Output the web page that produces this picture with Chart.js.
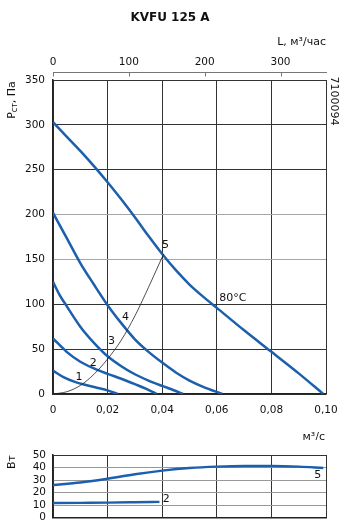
<!DOCTYPE html>
<html lang="ru">
<head>
  <meta charset="UTF-8" />
  <title>KVFU 125 A</title>
  <script src="https://cdn.jsdelivr.net/npm/chart.js"></script>
  <style>
    body {
      margin: 0;
      background: #fff;
      font-family: "DejaVu Sans", sans-serif;
    }
    .wrap {
      position: relative;
      width: 340px;
      height: 524px;
      overflow: hidden;
    }
    .title {
      position: absolute;
      top: 10px;
      left: 0;
      width: 340px;
      text-align: center;
      font-weight: bold;
      font-size: 12px;
      color: #111;
    }
    canvas {
      position: absolute;
      left: 0;
    }
    #pressure-chart { top: 0; }
    #power-chart { top: 440px; }
  </style>
</head>
<body>
  <div class="wrap">
    <canvas id="pressure-chart" width="340" height="440"></canvas>
    <canvas id="power-chart" width="340" height="84"></canvas>
    <div class="title">KVFU 125 A</div>
  </div>

  <script>
    // pressure curves, flow in m3/s, pressure in Pa
    const flow1 = [0, 0.004, 0.008, 0.012, 0.016, 0.02, 0.0237];
    const pres1 = [26, 18.5, 13.5, 10, 7, 4, 0];
    const flow2 = [0, 0.005, 0.01, 0.015, 0.02, 0.025, 0.03, 0.034, 0.038];
    const pres2 = [62, 47, 36, 28.5, 22.5, 17, 11, 6, 0];
    const flow3 = [0, 0.0025, 0.005, 0.01, 0.015, 0.02, 0.025, 0.03, 0.035, 0.04, 0.044, 0.0476];
    const pres3 = [125, 110, 98, 75, 57, 42, 31, 22, 15, 9, 4.5, 0];
    const flow4 = [0, 0.005, 0.01, 0.015, 0.02, 0.025, 0.03, 0.035, 0.04, 0.045, 0.05, 0.055, 0.062];
    const pres4 = [202, 174, 146, 122, 99, 79, 61, 47, 35, 24, 15, 8, 0];
    const flow5 = [0, 0.005, 0.01, 0.015, 0.02, 0.025, 0.03, 0.035, 0.04, 0.045, 0.05, 0.055, 0.06, 0.07, 0.08, 0.09, 0.099];
    const pres5 = [303, 287, 271, 254, 236, 217, 197, 176, 156, 138, 122, 108.5, 96, 71, 47, 23, 0];
    // thin system line
    const flowSys = [0, 0.005, 0.01, 0.015, 0.02, 0.025, 0.03, 0.035, 0.0405];
    const presSys = [0, 2.5, 9.5, 22, 39, 60, 87, 119, 156];

    // power curves, W
    const powFlow5 = [0, 0.01, 0.02, 0.03, 0.04, 0.05, 0.06, 0.07, 0.08, 0.09, 0.099];
    const powVal5 = [26, 28, 31, 34.6, 37.5, 39.6, 40.7, 41.2, 41.2, 40.7, 39.6];
    const powFlow2 = [0, 0.01, 0.02, 0.03, 0.039];
    const powVal2 = [11.5, 11.7, 11.9, 12.2, 12.5];

    // ticks
    const flowTicks = [0, 0.02, 0.04, 0.06, 0.08, 0.1];
    const presTicks = [0, 50, 100, 150, 200, 250, 300, 350];
    const hourTicks = [0, 100, 200, 300];
    const powTicks = [0, 10, 20, 30, 40, 50];

    // curve labels [text, flow, value]
    const presLabels = [["1", 0.0095, 19], ["2", 0.0147, 34], ["3", 0.0214, 59], ["4", 0.0266, 86], ["5", 0.0412, 166], ["80°C", 0.0659, 107]];
    const powLabels = [["5", 0.097, 34], ["2", 0.0415, 15]];

    const blue = "#1b5fad";
    const dark = "#333";
    const font = { family: "DejaVu Sans", size: 10.5 };

    const toPoints = (xs, ys) => xs.map((x, i) => ({ x: x, y: ys[i] }));
    const curve = (xs, ys, color, width) => ({
      data: toPoints(xs, ys),
      showLine: true,
      borderColor: color,
      borderWidth: width,
      pointRadius: 0,
      cubicInterpolationMode: "monotone",
      fill: false
    });
    const fmtFlow = v => v === 0 ? "0" : v.toFixed(2).replace(".", ",");
    const noEdgePad = s => { s.paddingLeft = 0; s.paddingRight = 0; s.paddingTop = 0; s.paddingBottom = 0; };

    function rotatedText(ctx, x, y, angle, draw) {
      ctx.save();
      ctx.translate(x, y);
      ctx.rotate(angle);
      draw();
      ctx.restore();
    }

    const pressureExtras = {
      id: "pressureExtras",
      afterDraw(chart) {
        const ctx = chart.ctx;
        const xs = chart.scales.x, ys = chart.scales.y;
        ctx.save();
        ctx.fillStyle = "#111";
        ctx.strokeStyle = "#777";
        ctx.lineWidth = 1;

        // top axis in m3/h
        const topY = 72.5;
        ctx.beginPath();
        ctx.moveTo(xs.left, topY);
        ctx.lineTo(xs.right + 1, topY);
        hourTicks.forEach(h => {
          const px = Math.round(xs.getPixelForValue(h / 3600)) + 0.5;
          ctx.moveTo(px, topY);
          ctx.lineTo(px, topY + 4);
        });
        ctx.stroke();
        ctx.font = "10.5px 'DejaVu Sans'";
        ctx.textAlign = "center";
        ctx.textBaseline = "middle";
        hourTicks.forEach(h => {
          ctx.fillText(String(h), xs.getPixelForValue(h / 3600), 62);
        });
        ctx.font = "11px 'DejaVu Sans'";
        ctx.textAlign = "right";
        ctx.fillText("L, м³/час", 326, 42);
        ctx.fillText("м³/с", 325, 437);

        // curve labels
        ctx.textAlign = "center";
        presLabels.forEach(l => {
          ctx.fillText(l[0], xs.getPixelForValue(l[1]), ys.getPixelForValue(l[2]));
        });

        // y title with subscript
        rotatedText(ctx, 12, 100, -Math.PI / 2, () => {
          ctx.textAlign = "left";
          ctx.font = "11px 'DejaVu Sans'";
          const wP = ctx.measureText("P").width;
          ctx.font = "8px 'DejaVu Sans'";
          const wSub = ctx.measureText("ст").width;
          ctx.font = "11px 'DejaVu Sans'";
          const wRest = ctx.measureText(", Па").width;
          let x0 = -(wP + wSub + wRest) / 2;
          ctx.fillText("P", x0, 0);
          ctx.font = "8px 'DejaVu Sans'";
          ctx.fillText("ст", x0 + wP, 3);
          ctx.font = "11px 'DejaVu Sans'";
          ctx.fillText(", Па", x0 + wP + wSub, 0);
        });

        // drawing number
        rotatedText(ctx, 334, 101, Math.PI / 2, () => {
          ctx.textAlign = "center";
          ctx.font = "11px 'DejaVu Sans'";
          ctx.fillText("7100094", 0, 0);
        });
        ctx.restore();
      }
    };

    const powerExtras = {
      id: "powerExtras",
      afterDraw(chart) {
        const ctx = chart.ctx;
        const xs = chart.scales.x, ys = chart.scales.y;
        ctx.save();
        ctx.fillStyle = "#111";
        ctx.font = "11px 'DejaVu Sans'";
        ctx.textAlign = "center";
        ctx.textBaseline = "middle";
        powLabels.forEach(l => {
          ctx.fillText(l[0], xs.getPixelForValue(l[1]), ys.getPixelForValue(l[2]));
        });
        rotatedText(ctx, 12, 22, -Math.PI / 2, () => {
          ctx.fillText("Вт", 0, 0);
        });
        ctx.restore();
      }
    };

    new Chart(document.getElementById("pressure-chart"), {
      type: "scatter",
      data: {
        datasets: [
          curve(flowSys, presSys, "#222", 0.8),
          curve(flow1, pres1, blue, 2.5),
          curve(flow2, pres2, blue, 2.5),
          curve(flow3, pres3, blue, 2.5),
          curve(flow4, pres4, blue, 2.5),
          curve(flow5, pres5, blue, 2.5)
        ]
      },
      options: {
        responsive: false,
        animation: false,
        layout: { padding: { top: 80, right: 14, left: 0, bottom: 0 } },
        plugins: { legend: { display: false }, tooltip: { enabled: false } },
        scales: {
          x: {
            type: "linear",
            min: 0,
            max: 0.1,
            afterBuildTicks: s => { s.ticks = flowTicks.map(v => ({ value: v })); },
            afterFit: s => { s.height = 46; noEdgePad(s); },
            ticks: { font: font, color: "#111", padding: 10, maxRotation: 0, autoSkip: false, callback: fmtFlow },
            grid: { color: dark, drawTicks: false },
            border: { color: "#222", width: 1.5 }
          },
          y: {
            type: "linear",
            min: 0,
            max: 350,
            afterBuildTicks: s => { s.ticks = presTicks.map(v => ({ value: v })); },
            afterFit: s => { s.width = 53; noEdgePad(s); },
            ticks: { font: font, color: "#111", padding: 8, autoSkip: false },
            grid: {
              color: c => (c.tick && (c.tick.value === 150 || c.tick.value === 200)) ? "#a6a6a6" : dark,
              drawTicks: false
            },
            border: { color: "#222", width: 1.5 }
          }
        }
      },
      plugins: [pressureExtras]
    });

    new Chart(document.getElementById("power-chart"), {
      type: "scatter",
      data: {
        datasets: [
          curve(powFlow5, powVal5, blue, 2.5),
          curve(powFlow2, powVal2, blue, 2.5)
        ]
      },
      options: {
        responsive: false,
        animation: false,
        layout: { padding: { top: 15, right: 14, left: 0, bottom: 0 } },
        plugins: { legend: { display: false }, tooltip: { enabled: false } },
        scales: {
          x: {
            type: "linear",
            min: 0,
            max: 0.1,
            afterBuildTicks: s => { s.ticks = flowTicks.map(v => ({ value: v })); },
            afterFit: s => { s.height = 6.5; noEdgePad(s); },
            ticks: { display: false },
            grid: { color: dark, drawTicks: false },
            border: { color: "#222", width: 1.5 }
          },
          y: {
            type: "linear",
            min: 0,
            max: 50,
            afterBuildTicks: s => { s.ticks = powTicks.map(v => ({ value: v })); },
            afterFit: s => { s.width = 53; noEdgePad(s); },
            ticks: { font: font, color: "#111", padding: 7, autoSkip: false },
            grid: {
              color: c => (c.tick && c.tick.value > 0 && c.tick.value < 50) ? "#999" : dark,
              drawTicks: false
            },
            border: { color: "#222", width: 1.5 }
          }
        }
      },
      plugins: [powerExtras]
    });
  </script>
</body>
</html>
